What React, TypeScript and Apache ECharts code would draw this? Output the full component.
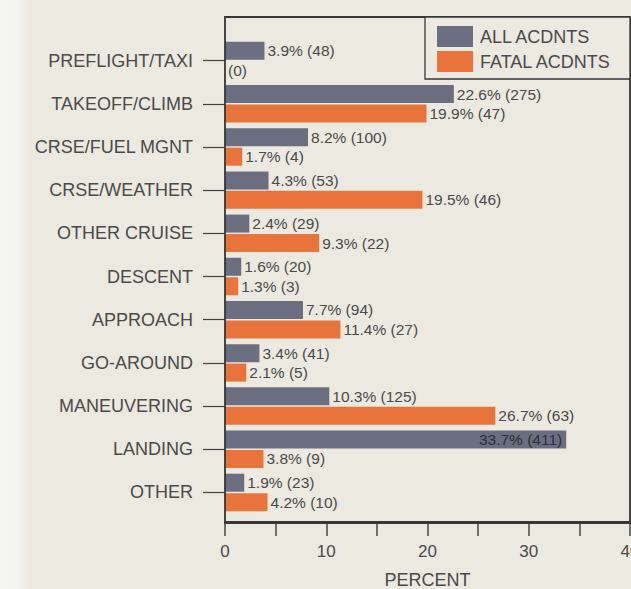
import React, { useEffect, useRef } from "react";
import * as echarts from "echarts";

// Flight phases, top to bottom
const phases = [
  "PREFLIGHT/TAXI",
  "TAKEOFF/CLIMB",
  "CRSE/FUEL MGNT",
  "CRSE/WEATHER",
  "OTHER CRUISE",
  "DESCENT",
  "APPROACH",
  "GO-AROUND",
  "MANEUVERING",
  "LANDING",
  "OTHER",
];

// Share of all accidents (percent) and accident counts
const allPct = [3.9, 22.6, 8.2, 4.3, 2.4, 1.6, 7.7, 3.4, 10.3, 33.7, 1.9];
const allCount = [48, 275, 100, 53, 29, 20, 94, 41, 125, 411, 23];

// Share of fatal accidents (percent) and fatal accident counts
const fatalPct = [0, 19.9, 1.7, 19.5, 9.3, 1.3, 11.4, 2.1, 26.7, 3.8, 4.2];
const fatalCount = [0, 47, 4, 46, 22, 3, 27, 5, 63, 9, 10];

const seriesNames = ["ALL ACDNTS", "FATAL ACDNTS"];
const xTicks = { min: 0, max: 40, interval: 10 };
const xName = "PERCENT";

const FONT = "'Liberation Sans', Arial, Helvetica, sans-serif";
const TEXT = "#4a4a4a";
const FRAME = "#363636";
const GRAY = "#6b6e80";
const ORANGE = "#e8743b";

function labelText(pct: number, count: number) {
  return pct === 0 ? `(${count})` : `${pct.toFixed(1)}% (${count})`;
}

function buildData(pct: number[], count: number[]) {
  return pct.map((v, i) => {
    const item: any = { value: v, count: count[i] };
    // long bars carry their label inside the bar end
    if (v > 30) {
      item.label = { position: "insideRight", color: "#2e2f3a", distance: 4 };
    }
    return item;
  });
}

export default function App() {
  const ref = useRef<HTMLDivElement>(null);

  useEffect(() => {
    if (!ref.current) return;
    const chart = echarts.init(ref.current, null, { renderer: "svg" });

    const valueLabel = {
      show: true,
      position: "right",
      distance: 3,
      fontFamily: FONT,
      fontSize: 15.5,
      color: TEXT,
      formatter: (p: any) => labelText(p.value, p.data.count),
    };

    chart.setOption({
      animation: false,
      backgroundColor: "#ece9e0",
      textStyle: { fontFamily: FONT },
      graphic: [
        {
          type: "rect",
          z: -10,
          shape: { x: 0, y: 0, width: 30, height: 589 },
          style: {
            fill: new echarts.graphic.LinearGradient(0, 0, 1, 0, [
              { offset: 0, color: "#f5f5f4" },
              { offset: 0.6, color: "#f3f3f1" },
              { offset: 1, color: "#ece9e0" },
            ]),
          },
        },
        {
          type: "rect",
          z: 10,
          shape: { x: 225, y: 17, width: 405, height: 506 },
          style: { fill: "none", stroke: FRAME, lineWidth: 1.8 },
        },
        {
          type: "rect",
          z: 10,
          shape: { x: 425, y: 17, width: 205, height: 62 },
          style: { fill: "#ece9e0", stroke: FRAME, lineWidth: 1.3 },
        },
      ],
      legend: {
        show: true,
        orient: "vertical",
        left: 437,
        top: 26,
        z: 20,
        itemWidth: 36,
        itemHeight: 21,
        itemGap: 4,
        icon: "rect",
        padding: 0,
        textStyle: {
          fontFamily: FONT,
          fontSize: 18,
          color: TEXT,
          padding: [0, 0, 0, 2],
        },
        data: seriesNames,
      },
      grid: { left: 225, right: 1, top: 39, bottom: 75, outerBoundsMode: "none", containLabel: false },
      xAxis: {
        type: "value",
        min: xTicks.min,
        max: xTicks.max,
        interval: xTicks.interval,
        offset: 8,
        name: xName,
        nameLocation: "middle",
        nameGap: 49,
        nameTextStyle: { fontFamily: FONT, fontSize: 18, color: TEXT },
        axisLine: { show: true, lineStyle: { color: FRAME, width: 1.8 } },
        axisTick: { show: true, length: 14, lineStyle: { color: "#444", width: 1.5 } },
        minorTick: { show: true, splitNumber: 2, length: 14, lineStyle: { color: "#444", width: 1.5 } },
        axisLabel: { margin: 21, fontFamily: FONT, fontSize: 17, color: TEXT },
        splitLine: { show: false },
      },
      yAxis: {
        type: "category",
        inverse: true,
        data: phases,
        axisLine: { show: false },
        axisTick: {
          show: true,
          alignWithLabel: true,
          length: 22,
          lineStyle: { color: "#444", width: 1.2 },
        },
        axisLabel: { margin: 32, fontFamily: FONT, fontSize: 18, color: TEXT },
      },
      series: [
        {
          name: seriesNames[0],
          type: "bar",
          barWidth: 18,
          barGap: "8%",
          itemStyle: { color: GRAY },
          label: valueLabel,
          data: buildData(allPct, allCount),
        },
        {
          name: seriesNames[1],
          type: "bar",
          barWidth: 18,
          itemStyle: { color: ORANGE },
          label: valueLabel,
          data: buildData(fatalPct, fatalCount),
        },
      ],
    });

    return () => chart.dispose();
  }, []);

  return (
    <div
      ref={ref}
      style={{ position: "fixed", left: 0, top: 0, width: 631, height: 589 }}
    />
  );
}
